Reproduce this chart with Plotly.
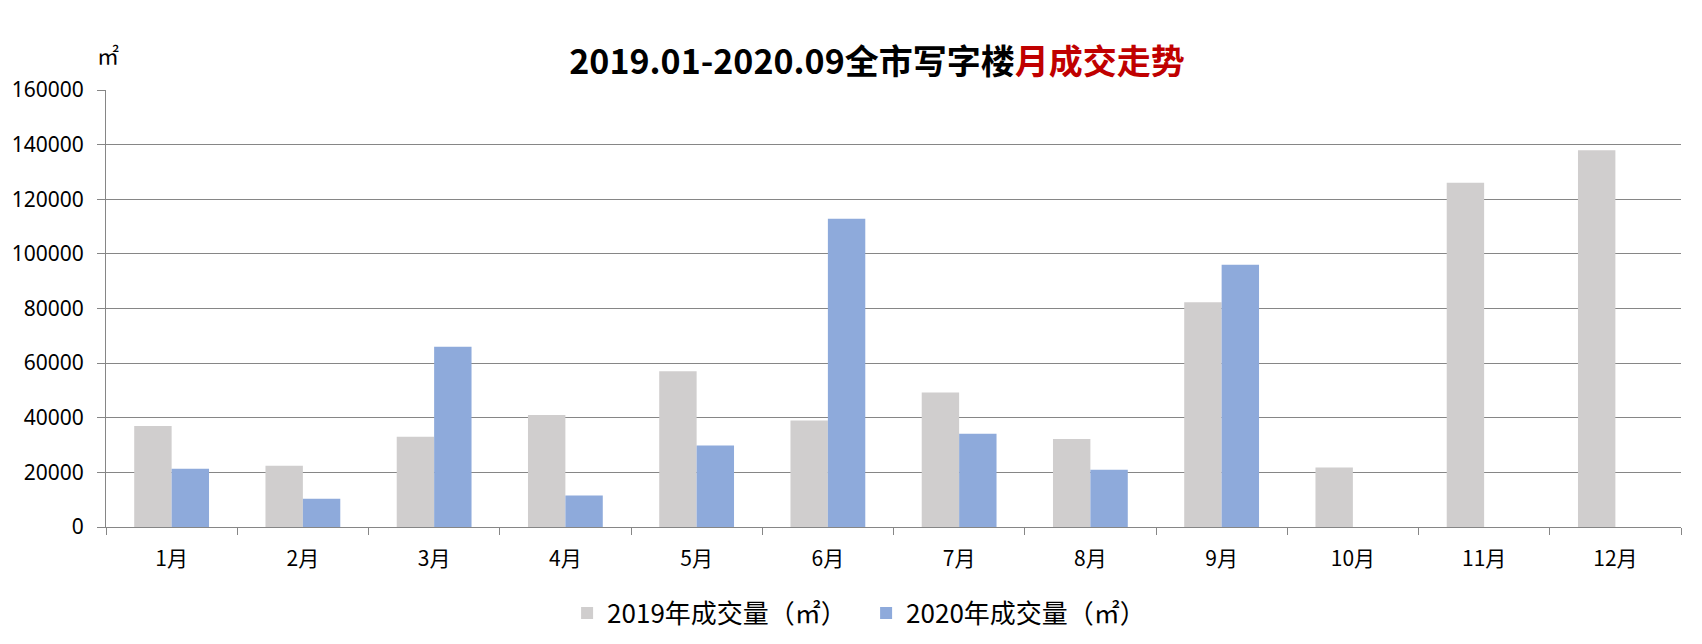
import plotly.graph_objects as go

months = ["1月", "2月", "3月", "4月", "5月", "6月", "7月", "8月", "9月", "10月", "11月", "12月"]
vol_2019 = [37000, 22400, 33000, 41000, 57000, 39000, 49200, 32200, 82300, 21800, 126000, 137900]
vol_2020 = [21300, 10300, 66000, 11500, 29800, 112900, 34100, 21000, 96000, None, None, None]
name_2019 = "2019年成交量（㎡）"
name_2020 = "2020年成交量（㎡）"
y_ticks = [0, 20000, 40000, 60000, 80000, 100000, 120000, 140000, 160000]

CJK = "Noto Sans CJK SC"
GRID = "#868686"

L, R, T, B = 98, 29, 82, 125
W, H = 1702, 644
PH = H - T - B
PW = W - L - R

fig = go.Figure()
fig.add_trace(go.Bar(x=months, y=vol_2019, name=name_2019, marker=dict(color="#D0CECE", line=dict(width=0))))
fig.add_trace(go.Bar(x=months, y=vol_2020, name=name_2020, marker=dict(color="#8EAADB", line=dict(width=0))))

fig.update_layout(
    width=W, height=H,
    margin=dict(l=L, r=R, t=T, b=B, autoexpand=False),
    paper_bgcolor="white", plot_bgcolor="white",
    barmode="group", bargap=0.43, bargroupgap=0,
    title=dict(
        text="<b>2019.01-2020.09全市写字楼<span style='color:#C00000'>月成交走势</span></b>",
        x=869 / W, xanchor="center", y=1 - 54 / H, yanchor="middle",
        font=dict(family=CJK, size=34, color="black"),
    ),
    legend=dict(
        orientation="h", x=0.4826, xanchor="center", y=-(605 - (T + PH)) / PH, yanchor="middle",
        font=dict(family=CJK, size=26, color="black"),
        itemwidth=30, traceorder="normal", entrywidth=254,
    ),
    font=dict(family=CJK, color="black"),
    showlegend=True,
)
fig.update_xaxes(
    type="category", showline=True, linecolor=GRID, linewidth=1,
    ticks="outside", tickson="boundaries", ticklen=7, tickcolor=GRID,
    tickfont=dict(family=CJK, size=21, color="black"),
    ticklabelstandoff=13, automargin=False,
    showgrid=False, range=[-0.5, 11.5],
)
fig.update_yaxes(
    range=[0, 160000], tickvals=y_ticks, ticktext=[str(v) for v in y_ticks],
    showline=True, linecolor=GRID, linewidth=1,
    ticks="outside", ticklen=8, tickcolor=GRID,
    showgrid=True, gridcolor=GRID, gridwidth=1,
    zeroline=False, ticklabelstandoff=9, automargin=False,
    tickfont=dict(family="Noto Sans", size=21, color="black"),
)
fig.add_annotation(
    text="㎡", xref="paper", yref="paper", x=2 / PW, y=1 + 34 / PH,
    xanchor="center", yanchor="middle", showarrow=False,
    font=dict(family="Liberation Serif, " + CJK, size=22, color="black"),
)
fig.write_html("out.html")
